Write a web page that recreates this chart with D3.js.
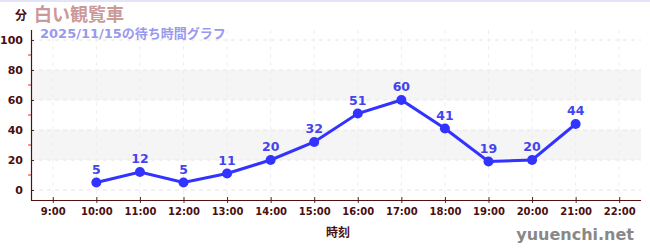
<!DOCTYPE html>
<html>
<head>
<meta charset="utf-8">
<script src="https://cdn.jsdelivr.net/npm/d3@7"></script>
<style>
  body { margin: 0; background: #fff; }
  svg { display: block; font-family: "Noto Sans CJK JP", "Noto Sans", sans-serif; }
</style>
</head>
<body>
<div id="chart"></div>
<script>
// data
var hours = [9, 10, 11, 12, 13, 14, 15, 16, 17, 18, 19, 20, 21, 22];
var waitHours = [10, 11, 12, 13, 14, 15, 16, 17, 18, 19, 20, 21];
var waitMinutes = [5, 12, 5, 11, 20, 32, 51, 60, 41, 19, 20, 44];
var yTicks = [0, 20, 40, 60, 80, 100];
var yMinor = [10, 30, 50, 70, 90];
var bands = [[20, 40], [60, 80]];

var w = 650, h = 250;
var svg = d3.select("#chart").append("svg").attr("width", w).attr("height", h);

// top border
svg.append("rect").attr("x", 0).attr("y", 0).attr("width", w).attr("height", 2).attr("fill", "#e4e4f8");

var x = d3.scaleLinear().domain([8.5, 22.5]).range([31, 641]);
var y = d3.scaleLinear().domain([0, 100]).range([190, 40]);

// bands
svg.selectAll("rect.band").data(bands).enter().append("rect")
   .attr("class", "band")
   .attr("x", x(8.5) + 1).attr("width", x(22.5) - x(8.5) - 1)
   .attr("y", function(d) { return y(d[1]); })
   .attr("height", function(d) { return y(d[0]) - y(d[1]); })
   .attr("fill", "#f5f5f5");

// grid
svg.selectAll("line.hg").data(yTicks).enter().append("line")
   .attr("x1", x(8.5)).attr("x2", x(22.5))
   .attr("y1", function(d) { return y(d); }).attr("y2", function(d) { return y(d); })
   .attr("stroke", "#e6e6e6").attr("stroke-dasharray", "4,4");
svg.selectAll("line.vg").data(hours).enter().append("line")
   .attr("x1", function(d) { return x(d); }).attr("x2", function(d) { return x(d); })
   .attr("y1", 30).attr("y2", 200)
   .attr("stroke", "#eeeeee").attr("stroke-dasharray", "4,4");

// y axis
var yAxis = d3.axisLeft(y).tickValues(yTicks).tickSize(4).tickPadding(4);
var gy = svg.append("g").attr("transform", "translate(31,0)").call(yAxis);
gy.select(".domain").remove();
gy.selectAll(".tick line").attr("x2", 3).attr("stroke", "#333");
gy.selectAll(".tick text").attr("fill", "#4a0f0f").style("font-size", "11px").style("font-weight", "bold")
  .style("font-family", "'DejaVu Sans', sans-serif");
svg.selectAll("line.ym").data(yMinor).enter().append("line")
   .attr("x1", 28).attr("x2", 31)
   .attr("y1", function(d) { return y(d); }).attr("y2", function(d) { return y(d); })
   .attr("stroke", "#e03030");
svg.append("line").attr("x1", 31.5).attr("x2", 31.5).attr("y1", 30).attr("y2", 200.5)
   .attr("stroke", "#5a0f0f").attr("stroke-width", 1.2);

// x axis
var xAxis = d3.axisBottom(x).tickValues(hours).tickSize(3).tickPadding(5)
   .tickFormat(function(d) { return d + ":00"; });
var gx = svg.append("g").attr("transform", "translate(0,200)").call(xAxis);
gx.select(".domain").remove();
gx.selectAll(".tick line").attr("y1", -3).attr("stroke", "#333");
gx.selectAll(".tick text").attr("fill", "#4a0f0f").style("font-size", "10px").style("font-weight", "bold")
  .style("font-family", "'DejaVu Sans', sans-serif");
svg.append("line").attr("x1", 31).attr("x2", 641).attr("y1", 200.5).attr("y2", 200.5)
   .attr("stroke", "#5a0f0f").attr("stroke-width", 1.2);

// line
var pts = waitHours.map(function(hh, i) { return [hh, waitMinutes[i]]; });
svg.append("path").datum(pts)
   .attr("d", d3.line().x(function(d) { return x(d[0]); }).y(function(d) { return y(d[1]); }))
   .attr("fill", "none").attr("stroke", "#3333ff").attr("stroke-width", 3);
svg.selectAll("circle").data(pts).enter().append("circle")
   .attr("cx", function(d) { return x(d[0]); })
   .attr("cy", function(d) { return y(d[1]); })
   .attr("r", 5).attr("fill", "#3333ff");
svg.selectAll("text.val").data(pts).enter().append("text")
   .attr("class", "val")
   .attr("x", function(d) { return x(d[0]); })
   .attr("y", function(d) { return y(d[1]) - 9; })
   .attr("text-anchor", "middle")
   .attr("fill", "#4444ee").style("font-size", "12.5px").style("font-weight", "bold")
   .style("font-family", "'DejaVu Sans', sans-serif")
   .text(function(d) { return d[1]; });

// titles
svg.append("text").attr("x", 15).attr("y", 20).text("分")
   .attr("fill", "#4a0f0f").style("font-size", "12px").style("font-weight", "bold");
svg.append("text").attr("x", 34).attr("y", 21).text("白い観覧車")
   .attr("fill", "#cc9999").style("font-size", "18px").style("font-weight", "bold");
svg.append("text").attr("x", 40).attr("y", 38).text("2025/11/15の待ち時間グラフ")
   .attr("fill", "#9999ee").style("font-size", "13px").style("font-weight", "bold")
   .style("font-family", "'DejaVu Sans', 'Noto Sans CJK JP', sans-serif");
svg.append("text").attr("x", 338).attr("y", 237).attr("text-anchor", "middle").text("時刻")
   .attr("fill", "#4a0f0f").style("font-size", "12px").style("font-weight", "bold");
svg.append("text").attr("x", 634).attr("y", 240).attr("text-anchor", "end").text("yuuenchi.net")
   .attr("fill", "#888").style("font-size", "16px").style("font-weight", "bold")
   .style("font-family", "'DejaVu Sans', sans-serif");
</script>
</body>
</html>
